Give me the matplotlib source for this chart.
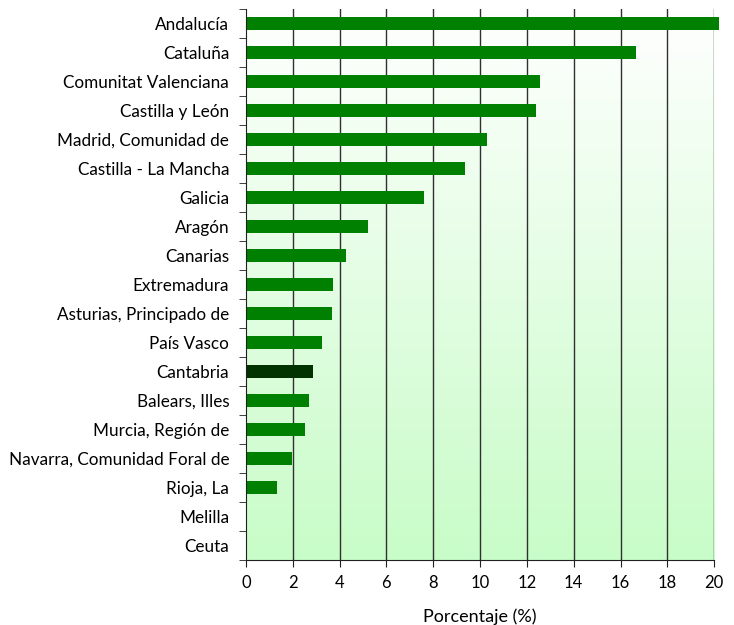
import matplotlib
matplotlib.use('Agg')
import matplotlib.pyplot as plt
import numpy as np

# Datos por comunidad autónoma
regiones = ['Andalucía', 'Cataluña', 'Comunitat Valenciana', 'Castilla y León',
            'Madrid, Comunidad de', 'Castilla - La Mancha', 'Galicia', 'Aragón',
            'Canarias', 'Extremadura', 'Asturias, Principado de', 'País Vasco',
            'Cantabria', 'Balears, Illes', 'Murcia, Región de',
            'Navarra, Comunidad Foral de', 'Rioja, La', 'Melilla', 'Ceuta']
porcentajes = [20.2, 16.67, 12.56, 12.39, 10.3, 9.36, 7.61, 5.21, 4.27, 3.72,
               3.68, 3.25, 2.86, 2.69, 2.52, 1.98, 1.32, 0.0, 0.0]
destacada = 'Cantabria'
x_ticks = list(range(0, 21, 2))

plt.rcParams['font.family'] = ['Lato', 'DejaVu Sans']

fig = plt.figure(figsize=(7.34, 6.25), dpi=100)
ax = fig.add_axes([0.335, 0.104, 0.638, 0.8816])

n = len(regiones)
y = np.arange(n)
colores = ['#003300' if r == destacada else '#008000' for r in regiones]

# fondo degradado blanco -> verde claro
grad = np.linspace(0, 1, 256).reshape(-1, 1)
cmap = matplotlib.colors.LinearSegmentedColormap.from_list('g', ['#ffffff', '#c8fcc8'])
ax.imshow(grad, aspect='auto', cmap=cmap, extent=[0, 20, n - 0.5, -0.5],
          zorder=0, origin='upper')

for xv in x_ticks[1:]:
    ax.axvline(xv, color='#303030', lw=1, zorder=1)

bars = ax.barh(y, porcentajes, height=0.42, color=colores, zorder=2)
for b in bars:
    b.set_clip_on(False)

ax.set_xlim(0, 20)
ax.set_ylim(n - 0.5, -0.5)
ax.set_xticks(x_ticks)
ax.set_yticks(y)
ax.set_yticklabels(regiones, fontsize=12.3)
ax.set_yticks(np.arange(-0.5, n, 1), minor=True)
ax.tick_params(axis='y', which='major', length=0, pad=12)
ax.tick_params(axis='y', which='minor', length=5, color='#202020')
ax.tick_params(axis='x', length=5, labelsize=12, pad=6, color='#202020')
ax.set_xlabel('Porcentaje (%)', fontsize=13, labelpad=12)

ax.spines['top'].set_visible(False)
ax.spines['right'].set_visible(False)
ax.spines['left'].set_color('#202020')
ax.spines['bottom'].set_color('#202020')

fig.savefig('out.png', dpi=100)
